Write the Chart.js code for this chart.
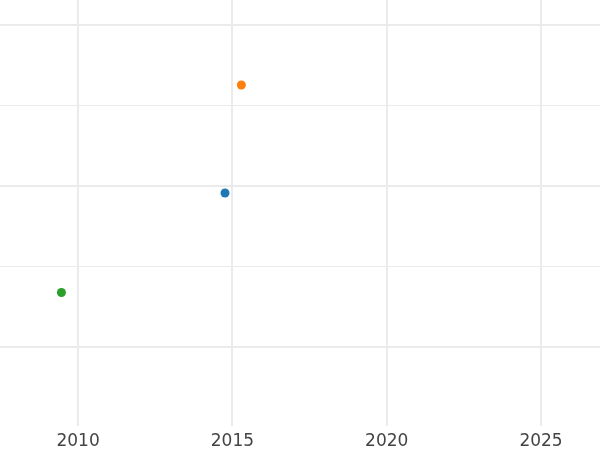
<!DOCTYPE html>
<html lang="en">
<head>
  <meta charset="UTF-8">
  <title>Scatter</title>
  <script src="https://cdn.jsdelivr.net/npm/chart.js"></script>
  <style>
    html, body { margin: 0; padding: 0; background: #fff; }
    #wrap { width: 600px; height: 450px; }
  </style>
</head>
<body>
  <div id="wrap"><canvas id="grafico"></canvas></div>
  <script>
    // Dados
    const seriesNames = ['A', 'B', 'C'];
    const seriesColors = ['#1f77b4', '#ff7f0e', '#2ca02c'];
    const seriesX = [2014.76, 2015.29, 2009.46];
    const seriesY = [0.957, 1.627, 0.339];

    const xTicks = [2010, 2015, 2020, 2025];
    const yTicks = [0, 0.5, 1, 1.5, 2];
    const xRange = [2007.47, 2026.91];
    const yRange = [-0.49, 2.155];

    const datasets = seriesNames.map((nome, i) => ({
      label: nome,
      data: [{ x: seriesX[i], y: seriesY[i] }],
      backgroundColor: seriesColors[i],
      borderColor: seriesColors[i],
      pointRadius: 4.5,
      pointHoverRadius: 4.5,
      borderWidth: 0
    }));

    new Chart(document.getElementById('grafico'), {
      type: 'scatter',
      data: { datasets },
      options: {
        responsive: true,
        maintainAspectRatio: false,
        animation: false,
        layout: { padding: 0, autoPadding: false },
        plugins: { legend: { display: false }, tooltip: { enabled: false } },
        scales: {
          x: {
            type: 'linear',
            min: xRange[0],
            max: xRange[1],
            afterBuildTicks: s => { s.ticks = xTicks.map(v => ({ value: v })); },
            afterFit: s => { s.height = 24; },
            border: { display: false },
            grid: { color: '#ebebeb', lineWidth: 2, drawTicks: false },
            ticks: {
              padding: 7,
              color: '#444',
              font: { family: 'DejaVu Sans', size: 17, lineHeight: 1 },
              callback: v => String(v)
            }
          },
          y: {
            type: 'linear',
            min: yRange[0],
            max: yRange[1],
            afterBuildTicks: s => { s.ticks = yTicks.map(v => ({ value: v })); },
            border: { display: false },
            grid: {
              color: '#ebebeb',
              lineWidth: ctx => (ctx.tick && ctx.tick.value % 1 === 0 ? 2 : 1),
              drawTicks: false
            },
            ticks: { display: false }
          }
        }
      }
    });
  </script>
</body>
</html>
